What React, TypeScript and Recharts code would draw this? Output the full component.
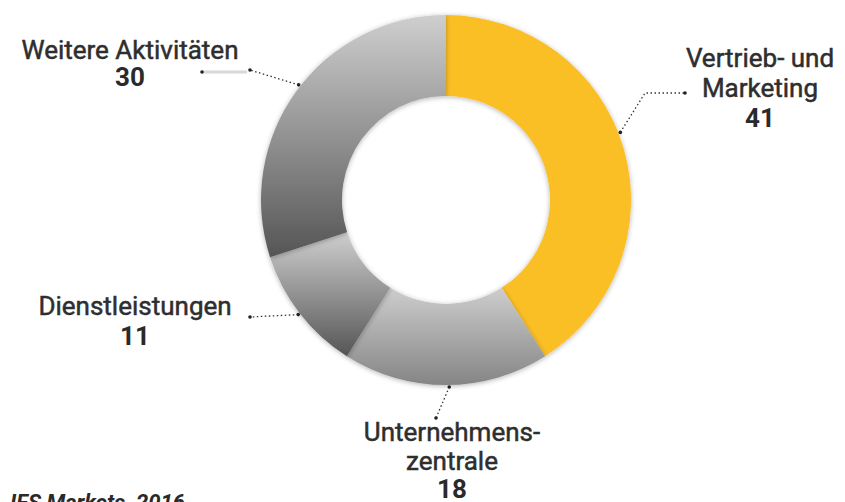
import React from "react";
import { PieChart, Pie, Cell } from "recharts";

const categories = ["Vertrieb- und Marketing", "Unternehmenszentrale", "Dienstleistungen", "Weitere Aktivitäten"];
const values = [41, 18, 11, 30];
const labelLines = [["Vertrieb- und", "Marketing"], ["Unternehmens-", "zentrale"], ["Dienstleistungen"], ["Weitere Aktivitäten"]];
const sourceText = "IFS Markets, 2016";

const sliceFills = ["#fbbf27", "url(#gradLight)", "url(#gradDark)", "url(#gradDark)"];

// label layout: text centre x, first baseline y, line height, anchor angle shift, leader points
const labelLayout = [
  { x: 760, y: 67, lh: 30, shift: 5, pts: [[645, 93], [685, 93]], bar: null },
  { x: 452, y: 441, lh: 28.5, shift: 1, pts: [[436, 418]], bar: null },
  { x: 135, y: 315, lh: 30, shift: 0, pts: [[250, 317]], bar: null },
  { x: 130, y: 59, lh: 27, shift: -2, pts: [[250, 70]], bar: [[247, 72], [202, 72]] },
];

const data = categories.map((name, i) => ({ name, value: values[i] }));
const RAD = Math.PI / 180;
const FONT = "Roboto, 'DejaVu Sans', sans-serif";

const renderLabel = (props: any) => {
  const { cx, cy, midAngle, outerRadius, index } = props;
  const L = labelLayout[index];
  const a = (midAngle + L.shift) * RAD;
  const r = outerRadius + 2;
  const ax = cx + r * Math.cos(-a);
  const ay = cy + r * Math.sin(-a);
  const pts = [[ax, ay], ...L.pts];
  const d = pts.map((p, i) => `${i === 0 ? "M" : "L"}${p[0]},${p[1]}`).join(" ");
  const last = pts[pts.length - 1];
  const lines = labelLines[index];
  return (
    <g key={`lbl-${index}`}>
      <path d={d} fill="none" stroke="#333" strokeWidth={1.3} strokeDasharray="1.5 2.5" />
      <circle cx={ax} cy={ay} r={1.8} fill="#222" />
      {L.bar ? (
        <g>
          <line x1={L.bar[0][0]} y1={L.bar[0][1]} x2={L.bar[1][0]} y2={L.bar[1][1]} stroke="#d8d8d8" strokeWidth={3} />
          <circle cx={L.bar[1][0]} cy={L.bar[1][1]} r={1.8} fill="#222" />
          <circle cx={last[0]} cy={last[1]} r={1.8} fill="#222" />
        </g>
      ) : (
        <circle cx={last[0]} cy={last[1]} r={1.8} fill="#222" />
      )}
      {lines.map((t, i) => (
        <text key={i} x={L.x} y={L.y + i * L.lh} textAnchor="middle" fontFamily={FONT} fontSize={26} fontWeight={400} fill="#2e2e2e" stroke="#2e2e2e" strokeWidth={0.5}>
          {t}
        </text>
      ))}
      <text x={L.x} y={L.y + lines.length * L.lh} textAnchor="middle" fontFamily={FONT} fontSize={26} fontWeight={700} fill="#2a2a2a">
        {values[index]}
      </text>
    </g>
  );
};

export default function App() {
  return (
    <div style={{ position: "absolute", left: 0, top: 0, width: 845, height: 502, overflow: "hidden", background: "#fff" }}>
      <PieChart width={845} height={502} style={{ overflow: "visible" }}>
        <defs>
          <linearGradient id="gradDark" x1="0" y1="0" x2="0" y2="1">
            <stop offset="0%" stopColor="#cfcfcf" />
            <stop offset="100%" stopColor="#555555" />
          </linearGradient>
          <linearGradient id="gradLight" x1="0" y1="0" x2="0" y2="1">
            <stop offset="0%" stopColor="#cdcdcd" />
            <stop offset="100%" stopColor="#858585" />
          </linearGradient>
          <filter id="shadow" x="-20%" y="-20%" width="140%" height="140%">
            <feDropShadow dx="0" dy="1" stdDeviation="2.5" floodColor="#000" floodOpacity="0.3" />
          </filter>
        </defs>
        <Pie
          data={data}
          dataKey="value"
          nameKey="name"
          cx={441}
          cy={195}
          innerRadius={104}
          outerRadius={185}
          startAngle={90}
          endAngle={-270}
          stroke="none"
          isAnimationActive={false}
          label={renderLabel}
          labelLine={false}
          style={{ filter: "url(#shadow)" }}
        >
          {data.map((d, i) => (
            <Cell key={d.name} fill={sliceFills[i]} stroke="none" />
          ))}
        </Pie>
      </PieChart>
      <div style={{ position: "absolute", left: 10, top: 490, fontFamily: FONT, fontStyle: "italic", fontWeight: 700, fontSize: 22, color: "#2a2a2a", whiteSpace: "nowrap" }}>
        {sourceText}
      </div>
    </div>
  );
}
